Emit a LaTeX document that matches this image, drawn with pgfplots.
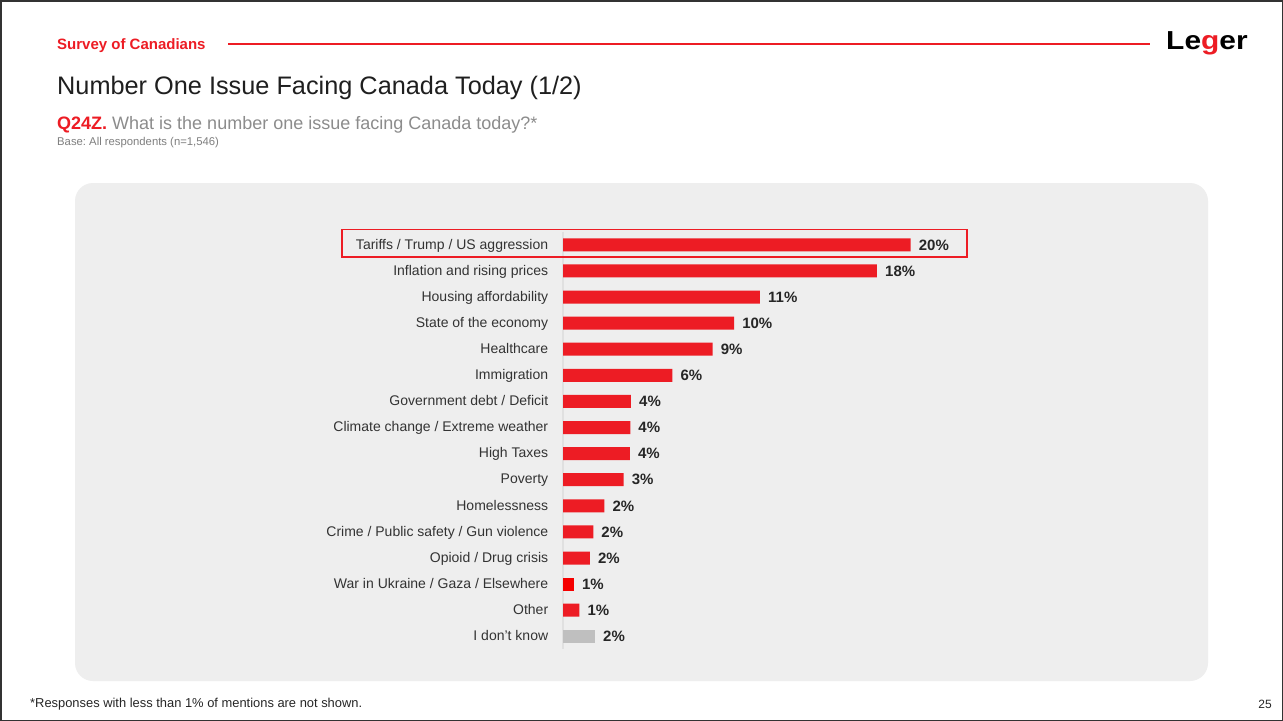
\documentclass[border=0pt]{standalone}
\usepackage{pgfplots}
\pgfplotsset{compat=1.18}
\usepackage{fontspec}
\setmainfont{Liberation Sans}
\frenchspacing

\definecolor{legred}{HTML}{ED1C24}
\definecolor{warred}{HTML}{F50000}
\definecolor{dkgray}{HTML}{BFBFBF}
\definecolor{panel}{HTML}{EEEEEE}
\definecolor{frame}{HTML}{333333}
\definecolor{titlecol}{HTML}{1F1F1F}
\definecolor{labcol}{HTML}{333333}
\definecolor{valcol}{HTML}{262626}
\definecolor{qgray}{HTML}{8C8C8C}
\definecolor{basegray}{HTML}{7F7F7F}

\newcommand{\fs}[1]{\fontsize{#1bp}{#1bp}\selectfont}

\begin{document}
\begin{tikzpicture}
\useasboundingbox (0,0) rectangle (1283bp,-721bp);
\fill[white] (0,0) rectangle (1283bp,-721bp);
\draw[frame, line width=1.5bp] (0.75bp,-0.75bp) rectangle (1282.25bp,-720.25bp);

% header
\node[anchor=base west, inner sep=0pt, font=\fs{15}\bfseries, text=legred] at (57bp,-49bp) {Survey of Canadians};
\draw[legred, line width=2bp] (228bp,-44bp) -- (1150bp,-44bp);
\node[anchor=base west, inner sep=0pt, font=\fs{26}\bfseries, xscale=1.15] at (1166bp,-49bp)
  {\textcolor{black}{Le}\textcolor{legred}{g}\textcolor{black}{er}};
\node[anchor=base west, inner sep=0pt, font=\fs{25.3}, text=titlecol] at (57bp,-94bp)
  {Number One Issue Facing Canada Today (1/2)};
\node[anchor=base west, inner sep=0pt, font=\fs{18}] at (57bp,-129bp)
  {\textcolor{legred}{\bfseries Q24Z.} \textcolor{qgray}{What is the number one issue facing Canada today?*}};
\node[anchor=base west, inner sep=0pt, font=\fs{11.3}, text=basegray] at (57bp,-145bp)
  {Base: All respondents (n=1,546)};

% panel
\fill[panel, rounded corners=18bp] (75bp,-183bp) rectangle (1208bp,-681bp);

\begin{axis}[
    at={(563bp,-649.35bp)}, anchor=south west,
    scale only axis,
    width=347.7bp, height=417.6bp,
    xmin=0, xmax=20,
    ymin=-0.5, ymax=15.5,
    y dir=reverse,
    enlargelimits=false,
    clip=false,
    xbar, bar width=13bp, bar shift=0pt,
    axis x line=none,
    axis y line=left,
    y axis line style={draw=black!12, line width=2bp, -},
    xtick=\empty,
    ytick={0,...,15},
    yticklabels={
        Tariffs / Trump / US aggression,
        Inflation and rising prices,
        Housing affordability,
        State of the economy,
        Healthcare,
        Immigration,
        Government debt / Deficit,
        Climate change / Extreme weather,
        High Taxes,
        Poverty,
        Homelessness,
        Crime / Public safety / Gun violence,
        Opioid / Drug crisis,
        War in Ukraine / Gaza / Elsewhere,
        Other,
        I don't know},
    ytick style={draw=none},
    yticklabel style={font=\fs{14}, text=labcol, inner sep=0pt, xshift=-12.5bp,
        anchor=east, text height=11.5bp, text depth=3.1bp},
    point meta=explicit symbolic,
    nodes near coords={\pgfplotspointmeta\%},
    every node near coord/.style={anchor=west, inner sep=0pt, xshift=8bp,
        font=\fs{15}\bfseries, text=valcol, text height=13bp, text depth=2.6bp},
]
\addplot[fill=legred, draw=none] table[x=val, y=idx, meta=lab] {
idx val   lab
0   20.00 20
1   18.06 18
2   11.33 11
3   9.84  10
4   8.61  9
5   6.29  6
6   3.91  4
7   3.87  4
8   3.85  4
9   3.49  3
10  2.38  2
11  1.74  2
12  1.55  2
14  0.94  1
};
\addplot[fill=warred, draw=none] table[x=val, y=idx, meta=lab] {
idx val   lab
13  0.63  1
};
\addplot[fill=dkgray, draw=none] table[x=val, y=idx, meta=lab] {
idx val   lab
15  1.84  2
};
\end{axis}

% highlight box
\draw[legred, line width=1.2bp] (342bp,-229.5bp) rectangle (967bp,-257bp);

% footer
\node[anchor=base west, inner sep=0pt, font=\fs{12.9}, text=black!85] at (30bp,-707bp)
  {*Responses with less than 1\% of mentions are not shown.};
\node[anchor=base east, inner sep=0pt, font=\fs{12}, text=black!85] at (1272bp,-708bp) {25};
\end{tikzpicture}
\end{document}
